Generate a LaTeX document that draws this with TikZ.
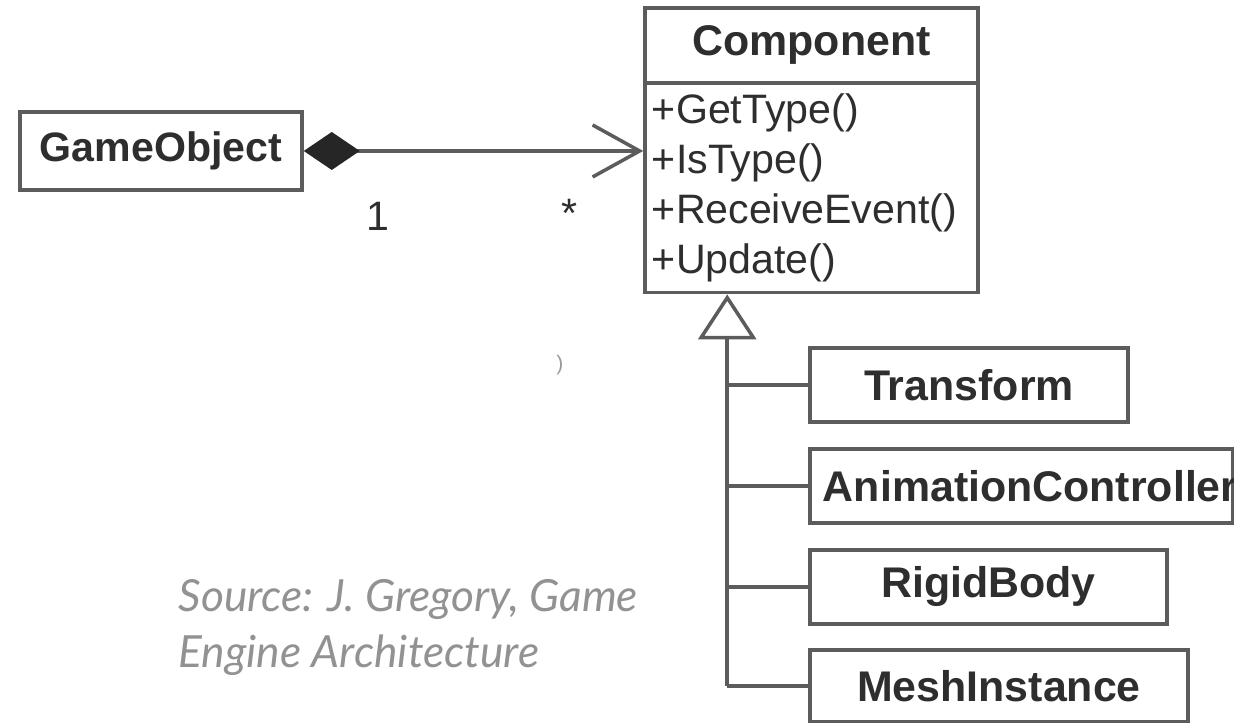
\documentclass[tikz,border=0pt]{standalone}
\usepackage{fontspec}
\setmainfont{Liberation Sans}
\newfontfamily\sourcefont{Lato}
\usetikzlibrary{positioning, arrows.meta, calc}

\definecolor{lineclr}{HTML}{5C5C5C}
\definecolor{umltext}{HTML}{2E2E2E}
\definecolor{srcgray}{HTML}{929292}

\begin{document}
\begin{tikzpicture}[
  umlbox/.style={draw=lineclr, line width=1pt, fill=white, text=umltext, inner sep=0pt, font=\fontsize{12.2}{14.2}\selectfont\bfseries},
  umlops/.style={umlbox, font=\fontsize{11.7}{14.2}\selectfont, align=left, text width=3.19cm, inner xsep=0.07cm},
  connline/.style={draw=lineclr, line width=1pt},
  mult/.style={text=umltext, font=\fontsize{11.7}{14.2}\selectfont}
]

\useasboundingbox (0,0) rectangle (12.34,7.23);

% Composition: GameObject -> Component
\node[umlbox, font=\fontsize{11.7}{14.2}\selectfont\bfseries, minimum width=2.82cm, minimum height=0.78cm] (gameobj) at (1.61,5.72) {GameObject};
\node[umlbox, minimum width=3.33cm, minimum height=0.75cm] (comp) at (8.115,6.775) {Component};
\node[umlops, minimum height=2.09cm, below=-0.8pt of comp] (ops) {+GetType()\\+IsType()\\+ReceiveEvent()\\+Update()};

\draw[connline, {Diamond[color=black!85, length=0.56cm, width=0.38cm]}-{Straight Barb[length=0.47cm, width=0.52cm]}] (gameobj.east) -- (ops.west |- gameobj.east);
\node[mult] (multone) at (3.78,5.07) {1};
\node[mult] (multmany) at (5.70,5.10) {*};
\node[text=black!40, font=\fontsize{6}{7}\selectfont] (stray) at (5.60,3.58) {)};

% Subclasses
\node[umlbox, minimum width=3.18cm, minimum height=0.74cm] (transform) at (9.69,3.38) {Transform};
\node[umlbox, minimum width=4.23cm, minimum height=0.74cm, text width=3.97cm, inner xsep=0.13cm, align=left] (animctrl) at (10.215,2.37) {\mbox{AnimationController}};
\node[umlbox, minimum width=3.57cm, minimum height=0.74cm] (rigid) at (9.885,1.36) {RigidBody};
\node[umlbox, minimum width=3.78cm, minimum height=0.72cm] (mesh) at (9.99,0.37) {MeshInstance};

\coordinate (trunkend) at ($(mesh.west)+(-0.81,0)$);
\draw[connline, -{Triangle[open, length=0.45cm, width=0.58cm]}] (trunkend) -- (trunkend |- ops.south);
\foreach \child in {transform, animctrl, rigid, mesh}
  \draw[connline] (trunkend |- \child.west) -- (\child.west);

% Citation
\node[anchor=north west, inner sep=0pt, align=left, text=srcgray, font=\sourcefont\itshape\fontsize{12.6}{15.9}\selectfont] (source) at (1.78,1.44) {Source: J. Gregory, Game\\Engine Architecture};

\end{tikzpicture}
\end{document}
